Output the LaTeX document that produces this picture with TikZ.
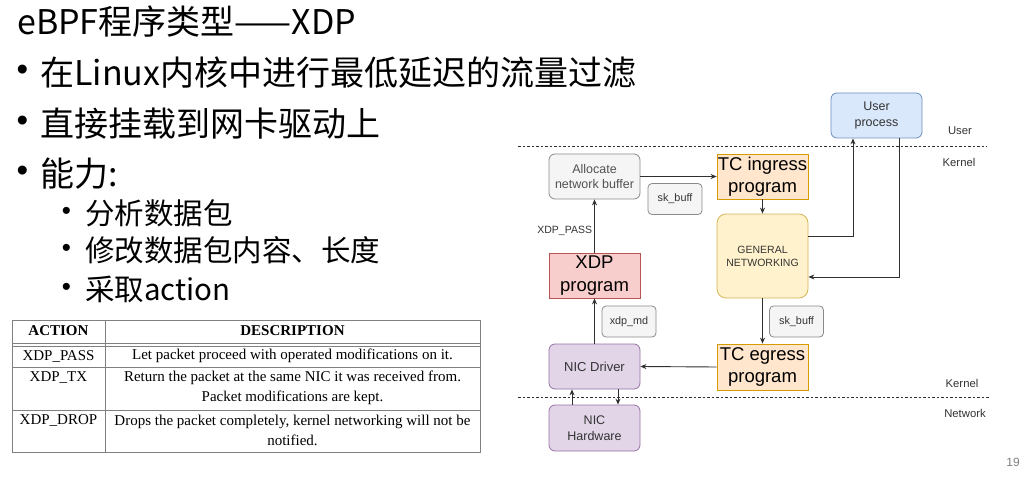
\documentclass[tikz,border=0pt]{standalone}
\usepackage{fontspec}
\setmainfont{Liberation Sans}
\newfontfamily\cjkfont{Noto Sans CJK SC}
\newfontfamily\tabfont{Liberation Serif}
\usetikzlibrary{arrows.meta}
\definecolor{userfill}{HTML}{DAE8FC}
\definecolor{userline}{HTML}{6C8EBF}
\definecolor{greyfill}{HTML}{F5F5F5}
\definecolor{greyline}{HTML}{8A8A8A}
\definecolor{tcfill}{HTML}{FFE6CC}
\definecolor{tcline}{HTML}{D79B00}
\definecolor{netfill}{HTML}{FFF2CC}
\definecolor{netline}{HTML}{D6B656}
\definecolor{xdpfill}{HTML}{F8CECC}
\definecolor{xdpline}{HTML}{B85450}
\definecolor{nicfill}{HTML}{E1D5E7}
\definecolor{nicline}{HTML}{9673A6}
\definecolor{textgrey}{HTML}{333333}
\definecolor{linegrey}{HTML}{303030}
\definecolor{tablegrey}{HTML}{808080}

\begin{document}
\begin{tikzpicture}[x=1pt,y=-1pt,
  slide/.style={font=\cjkfont\fontsize{34}{40}\selectfont,anchor=west,inner sep=0pt},
  subslide/.style={font=\cjkfont\fontsize{29.5}{35}\selectfont,anchor=west,inner sep=0pt},
  dot/.style={font=\fontsize{33}{38}\selectfont,inner sep=0pt},
  subdot/.style={font=\fontsize{26}{30}\selectfont,inner sep=0pt},
  cell/.style={font=\tabfont\fontsize{15}{20}\selectfont,align=center,inner sep=0pt},
  headcell/.style={cell,font=\tabfont\bfseries\fontsize{15}{20}\selectfont},
  rule/.style={draw=tablegrey,line width=.8pt},
  block/.style={draw,line width=.8pt,minimum width=91pt,minimum height=45pt,inner sep=0pt,
    align=center,text=textgrey,font=\fontsize{12.5}{15.5}\selectfont},
  roundblock/.style={block,rounded corners=6pt},
  big/.style={text=black,font=\fontsize{18.5}{22.5}\selectfont},
  tag/.style={draw=greyline,fill=greyfill,rounded corners=4pt,line width=.8pt,minimum width=54pt,
    minimum height=31pt,inner sep=0pt,text=textgrey,font=\fontsize{10.8}{13}\selectfont},
  flow/.style={-{Stealth[length=6pt,width=5pt]},line width=.9pt,draw=linegrey},
  layer/.style={text=textgrey,font=\fontsize{11.3}{13}\selectfont},
  sep/.style={draw=linegrey,line width=.7pt,dash pattern=on 2.5pt off 2pt}]
\useasboundingbox (0,0) rectangle (1026,484);
\fill[white] (0,0) rectangle (1026,484);

% SLIDE TEXT
\node[slide] (title) at (17,22) {eBPF程序类型——XDP};
\node[dot] (dotA) at (22.5,73) {•};
\node[slide] (pointA) at (40,73) {在Linux内核中进行最低延迟的流量过滤};
\node[dot] (dotB) at (22.5,124) {•};
\node[slide] (pointB) at (40,124) {直接挂载到网卡驱动上};
\node[dot] (dotC) at (22.5,174) {•};
\node[slide] (pointC) at (40,174) {能力:};
\node[subdot] (dotCa) at (66.5,213) {•};
\node[subslide] (subA) at (85,213) {分析数据包};
\node[subdot] (dotCb) at (66.5,250) {•};
\node[subslide] (subB) at (85,250) {修改数据包内容、长度};
\node[subdot] (dotCc) at (66.5,289) {•};
\node[subslide] (subC) at (85,289) {采取action};

% ACTION TABLE
\draw[rule] (12,320) rectangle (480,452);
\draw[rule] (12,343)--(480,343);
\draw[rule] (12,346)--(480,346);
\draw[rule] (12,367)--(480,367);
\draw[rule] (12,410)--(480,410);
\draw[rule] (105,320)--(105,452);
\node[headcell] (hAction) at (58.5,331) {ACTION};
\node[headcell] (hDesc) at (292.5,331) {DESCRIPTION};
\node[cell] (aPass) at (58.5,356) {XDP\_PASS};
\node[cell] (dPass) at (292.5,356) {Let packet proceed with operated modifications on it.};
\node[cell] (aTx) at (58.5,378) {XDP\_TX};
\node[cell] (dTx) at (292.5,388) {Return the packet at the same NIC it was received from.\\Packet modifications are kept.};
\node[cell] (aDrop) at (58.5,420) {XDP\_DROP};
\node[cell] (dDrop) at (292.5,430) {Drops the packet completely, kernel networking will not be\\notified.};

% LAYERS
\draw[sep] (518,146)--(987,146);
\draw[sep] (518,397)--(990,397);
\node[layer] (lUser) at (960,131) {User};
\node[layer] (lKernelTop) at (959,162) {Kernel};
\node[layer] (lKernelBot) at (962,383) {Kernel};
\node[layer] (lNetwork) at (965,413) {Network};

% BLOCKS
\node[roundblock,fill=userfill,draw=userline] (user) at (876.5,115.5) {User\\process};
\node[roundblock,fill=greyfill,draw=greyline,text=textgrey!85] (alloc) at (594.5,176.5) {Allocate\\network buffer};
\node[tag] (skbIn) at (675,199) {sk\_buff};
\node[block,big,fill=tcfill,draw=tcline] (ingress) at (762.5,176.5) {TC ingress\\program};
\node[roundblock,fill=netfill,draw=netline,rounded corners=9pt,minimum height=84pt,
  font=\fontsize{10.5}{13}\selectfont] (general) at (762.5,256) {GENERAL\\NETWORKING};
\node[block,big,fill=xdpfill,draw=xdpline] (xdp) at (594.5,275.5) {XDP\\program};
\node[tag] (xdpmd) at (629,321.5) {xdp\_md};
\node[tag] (skbOut) at (796.5,321.5) {sk\_buff};
\node[roundblock,fill=nicfill,draw=nicline,font=\fontsize{13}{15.5}\selectfont] (driver) at (594.5,366.5) {NIC Driver};
\node[block,big,fill=tcfill,draw=tcline,minimum height=46pt] (egress) at (762.5,367) {TC egress\\program};
\node[roundblock,fill=nicfill,draw=nicline,minimum height=46pt] (hw) at (594.5,428) {NIC\\Hardware};

% PACKET PATHS
\draw[flow] (alloc.east)--(ingress.west);
\draw[flow] (ingress.south)--(general.north);
\draw[flow] (xdp.north)--node[pos=.4,left=2pt,inner sep=0pt,layer,font=\fontsize{10.5}{13}\selectfont] {XDP\_PASS} (alloc.south);
\draw[flow] (driver.north)--(xdp.south);
\draw[flow] ([yshift=20pt]general.east) -| ([xshift=-23.5pt]user.south);
\draw[flow] ([xshift=22.5pt]user.south) |- ([yshift=-21pt]general.east);
\draw[flow] (general.south)--(egress.north);
\draw[flow] (egress.west)--(driver.east);
\draw[flow] ([xshift=-22.5pt]hw.north)--([xshift=-22.5pt]driver.south);
\draw[flow] ([xshift=23.5pt]driver.south)--([xshift=23.5pt]hw.north);

\node[text=gray,font=\fontsize{12}{14}\selectfont] (pageno) at (1013,462) {19};
\end{tikzpicture}
\end{document}
